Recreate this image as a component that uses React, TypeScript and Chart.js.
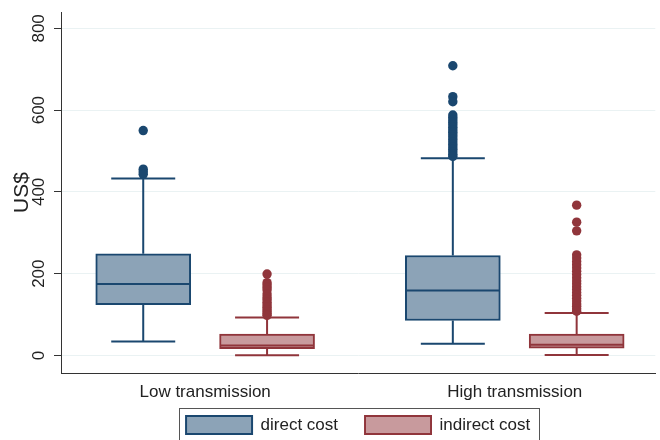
import React, { useEffect, useRef } from 'react';
import { Chart, registerables } from 'chart.js';

Chart.register(...registerables);

// ---- Data ----
const categories = ['Low transmission', 'High transmission'];
const seriesNames = ['direct cost', 'indirect cost'];
const yTicks = [0, 200, 400, 600, 800];

const directQ1 = [124, 85.5];
const directMedian = [174.5, 158.8];
const directQ3 = [248.5, 244.4];
const directLowWhisker = [34.2, 28.6];
const directHighWhisker = [432.5, 482.3];
const directOutliersLow = [550, 455.5, 449, 443];
const directOutliersHigh = [708.6, 632.9, 620.6, 588, 582, 576, 570, 564, 558, 552, 546, 540, 534, 528, 522, 516, 510, 504, 498, 492, 487];

const indirectQ1 = [16.5, 18];
const indirectMedian = [24.5, 26];
const indirectQ3 = [52.3, 52.3];
const indirectLowWhisker = [0.5, 1];
const indirectHighWhisker = [93, 103.6];
const indirectOutliersLow = [199, 178, 172, 166, 160, 150, 143, 137, 130, 124, 118, 112, 107, 102, 98];
const indirectOutliersHigh = [367.5, 326, 304.7, 246, 238, 230, 222, 214, 206, 198, 190, 182, 175, 168, 161, 154, 147, 140, 133, 126, 120, 114, 108];

// ---- Styles ----
const FONT = "'Liberation Sans', Arial, Helvetica, sans-serif";
const NAVY = '#1A476F';
const MAROON = '#90353B';
const FILLS = ['#8CA3B7', '#C89A9D'];
const LINES = [NAVY, MAROON];
const GROUP_X = [1, 2];
const OFFSETS = [-0.2, 0.2];
const BOX_W = 95;
const CAP_W = 64;

const stats = [
  { q1: directQ1, med: directMedian, q3: directQ3, lo: directLowWhisker, hi: directHighWhisker },
  { q1: indirectQ1, med: indirectMedian, q3: indirectQ3, lo: indirectLowWhisker, hi: indirectHighWhisker },
];
const outliers = [
  [directOutliersLow, directOutliersHigh],
  [indirectOutliersLow, indirectOutliersHigh],
];

const boxPlugin = {
  id: 'boxParts',
  beforeDraw(chart: any) {
    // let the category labels of the x axis extend below the axis box
    const xs = chart.scales.x;
    if (xs) xs._computeLabelArea = () => null;
  },
  beforeDatasetsDraw(chart: any) {
    const { ctx, scales } = chart;
    const xs = scales.x, ys = scales.y;
    ctx.save();
    ctx.lineWidth = 2;
    stats.forEach((s, si) => {
      ctx.strokeStyle = LINES[si];
      GROUP_X.forEach((g, gi) => {
        const px = xs.getPixelForValue(g + OFFSETS[si]);
        const yHi = ys.getPixelForValue(s.hi[gi]);
        const yQ3 = ys.getPixelForValue(s.q3[gi]);
        const yQ1 = ys.getPixelForValue(s.q1[gi]);
        const yLo = ys.getPixelForValue(s.lo[gi]);
        ctx.beginPath();
        ctx.moveTo(px, yQ3); ctx.lineTo(px, yHi);
        ctx.moveTo(px - CAP_W / 2, yHi); ctx.lineTo(px + CAP_W / 2, yHi);
        ctx.moveTo(px, yQ1); ctx.lineTo(px, yLo);
        ctx.moveTo(px - CAP_W / 2, yLo); ctx.lineTo(px + CAP_W / 2, yLo);
        ctx.stroke();
      });
    });
    ctx.restore();
  },
  afterDatasetsDraw(chart: any) {
    const { ctx, scales } = chart;
    const xs = scales.x, ys = scales.y;
    ctx.save();
    ctx.lineWidth = 2;
    stats.forEach((s, si) => {
      ctx.strokeStyle = LINES[si];
      GROUP_X.forEach((g, gi) => {
        const px = xs.getPixelForValue(g + OFFSETS[si]);
        const ym = ys.getPixelForValue(s.med[gi]);
        ctx.beginPath();
        ctx.moveTo(px - BOX_W / 2 + 1, ym); ctx.lineTo(px + BOX_W / 2 - 1, ym);
        ctx.stroke();
      });
    });
    ctx.restore();
  },
  afterDraw(chart: any) {
    const lg = chart.legend;
    const hb = lg && lg.legendHitBoxes;
    if (!hb || !hb.length) return;
    const { ctx } = chart;
    const last = hb[hb.length - 1];
    const l = Math.round(hb[0].left - 7);
    const r = Math.round(last.left + last.width + 9);
    const t = Math.round(hb[0].top - 8);
    const b = Math.round(hb[0].top + 18 + 5.5);
    ctx.save();
    ctx.strokeStyle = '#555';
    ctx.lineWidth = 1;
    ctx.strokeRect(l + 0.5, t + 0.5, r - l, b - t);
    ctx.restore();
  },
};

export default function App() {
  const ref = useRef<HTMLCanvasElement>(null);

  useEffect(() => {
    const canvas = ref.current;
    if (!canvas) return;

    const barDatasets = stats.map((s, si) => ({
      type: 'bar',
      label: seriesNames[si],
      data: GROUP_X.map((g, gi) => ({ x: g + OFFSETS[si], y: [s.q1[gi], s.q3[gi]] })),
      backgroundColor: FILLS[si],
      borderColor: LINES[si],
      borderWidth: 2,
      borderSkipped: false,
      grouped: false,
      barThickness: BOX_W,
      maxBarThickness: BOX_W,
      barPercentage: 1,
      categoryPercentage: 1,
      order: 2,
    }));

    const scatterDatasets = outliers.map((o, si) => ({
      type: 'scatter',
      label: seriesNames[si] + ' outliers',
      data: o.flatMap((vals, gi) => vals.map((v) => ({ x: GROUP_X[gi] + OFFSETS[si], y: v }))),
      backgroundColor: LINES[si],
      borderColor: LINES[si],
      borderWidth: 0,
      pointRadius: 4.7,
      order: 1,
    }));

    const chart = new Chart(canvas, {
      type: 'bar',
      data: { datasets: [...barDatasets, ...scatterDatasets] as any },
      options: {
        responsive: false,
        animation: false,
        events: [],
        devicePixelRatio: 1,
        layout: { padding: { top: 12, right: 2, bottom: -4, left: 0 } },
        plugins: {
          tooltip: { enabled: false },
          legend: {
            position: 'bottom',
            fullSize: false,
            labels: {
              filter: (item: any) => item.datasetIndex < 2,
              boxWidth: 66,
              boxHeight: 18,
              padding: 27,
              font: { family: FONT, size: 17 },
              color: '#222',
            },
          },
        },
        scales: {
          x: {
            type: 'linear',
            min: 0.5344,
            max: 2.454,
            offset: false,
            afterBuildTicks: (s: any) => {
              s.ticks = GROUP_X.map((v) => ({ value: v }));
            },
            afterFit: (s: any) => {
              s.height = 16;
            },
            grid: { display: false, drawTicks: false },
            border: { display: true, color: '#333', width: 1 },
            ticks: {
              callback: (_v: any, i: number) => categories[i],
              font: { family: FONT, size: 17 },
              color: '#222',
              padding: 9,
              maxRotation: 0,
              autoSkip: false,
            },
          },
          y: {
            type: 'linear',
            min: -43,
            max: 840,
            afterBuildTicks: (s: any) => {
              s.ticks = yTicks.map((v) => ({ value: v }));
            },
            afterFit: (s: any) => {
              s.width = 61;
            },
            grid: { color: '#EAF2F3', lineWidth: 1, tickLength: 7, tickColor: '#333', drawTicks: true },
            border: { display: true, color: '#333', width: 1 },
            ticks: {
              minRotation: 90,
              maxRotation: 90,
              crossAlign: 'center',
              padding: 1,
              font: { family: FONT, size: 17 },
              color: '#222',
            },
            title: {
              display: true,
              text: 'US$',
              font: { family: FONT, size: 21 },
              color: '#222',
              padding: { top: 10, bottom: 0 },
            },
          },
        },
      } as any,
      plugins: [boxPlugin],
    });

    return () => chart.destroy();
  }, []);

  return (
    <div style={{ position: 'fixed', left: 0, top: 0, width: 660, height: 440, background: '#fff' }}>
      <canvas ref={ref} width={660} height={440} style={{ display: 'block' }} />
    </div>
  );
}
